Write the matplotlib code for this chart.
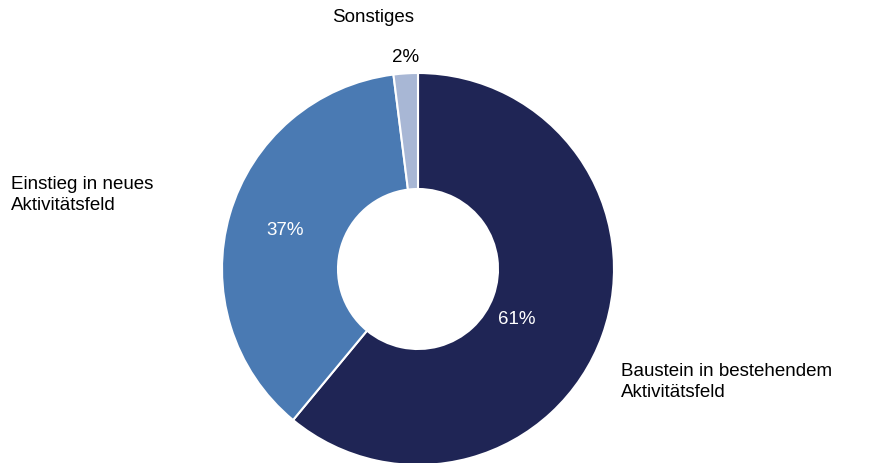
import matplotlib.pyplot as plt

plt.rcParams['font.family'] = ['Liberation Sans', 'DejaVu Sans']

# data
categories = ['Baustein in bestehendem\nAktivitätsfeld', 'Einstieg in neues\nAktivitätsfeld', 'Sonstiges']
shares = [61, 37, 2]
pct_labels = ['61%', '37%', '2%']
colors = ['#1f2555', '#4a7ab3', '#a8b7d5']

fig = plt.figure(figsize=(8.7, 4.64), dpi=100)
ax = fig.add_axes([0, 0, 1, 1])
ax.axis('off')

ax.pie(shares, colors=colors, startangle=90, counterclock=False,
       center=(418, 194), radius=196,
       wedgeprops=dict(width=116, edgecolor='white', linewidth=1.5))
ax.set_xlim(0, 870)
ax.set_ylim(0, 464)
ax.set_aspect('equal')

fs = 13.5
# percent labels
ax.text(517, 144, pct_labels[0], color='white', fontsize=fs, ha='center', va='center')
ax.text(285, 233, pct_labels[1], color='white', fontsize=fs, ha='center', va='center')
ax.text(406, 407, pct_labels[2], color='black', fontsize=fs, ha='center', va='center')

# category labels
ax.text(621, 82, categories[0], color='black', fontsize=fs, ha='left', va='center', linespacing=1.25)
ax.text(11, 269, categories[1], color='black', fontsize=fs, ha='left', va='center', linespacing=1.25)
ax.text(373, 446, categories[2], color='black', fontsize=fs, ha='center', va='center')

plt.savefig('out.png', dpi=100)
